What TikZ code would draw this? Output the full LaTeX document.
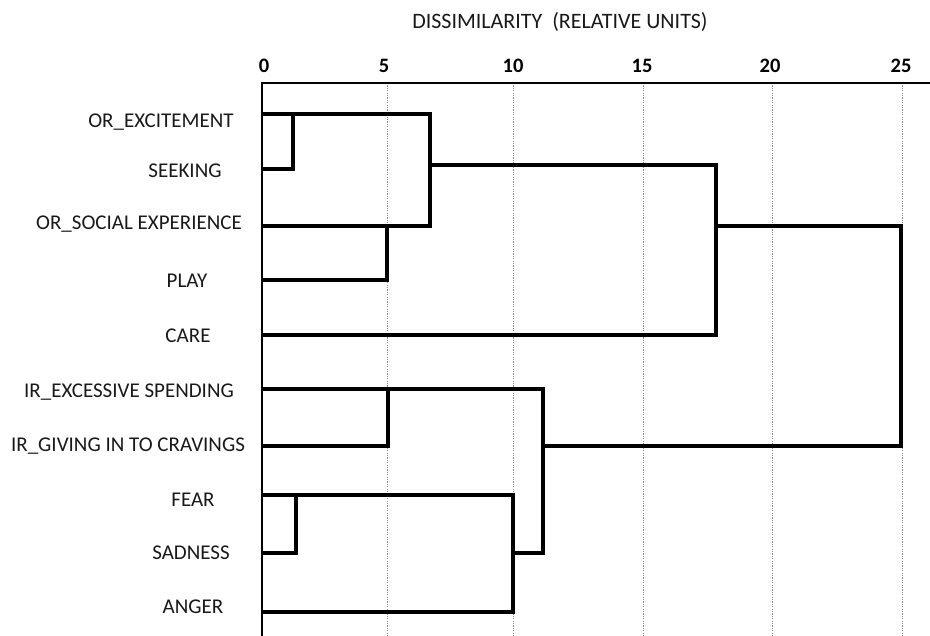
\documentclass[tikz,border=0pt]{standalone}
\usepackage{fontspec}
\setmainfont{Carlito}
\begin{document}
\begin{tikzpicture}[x=1pt,y=-1pt,
  leaf/.style={font=\fontsize{21}{21}\selectfont, inner sep=0pt, anchor=center, text=black!90},
  tickl/.style={font=\bfseries\fontsize{20.5}{20.5}\selectfont, inner sep=0pt, anchor=center},
  ttl/.style={font=\fontsize{22}{22}\selectfont, inner sep=0pt, anchor=center, text=black!90},
  link/.style={line width=3.2pt, line join=miter},
  axisline/.style={line width=2.4pt},
  gridl/.style={black!45, line width=1pt, dash pattern=on 1.2pt off 1.2pt},
]
\useasboundingbox (0,0) rectangle (930,636);
% leaves on the axis
\coordinate (E) at (262,114);
\coordinate (S) at (262,169);
\coordinate (SO) at (262,226);
\coordinate (P) at (262,280);
\coordinate (C) at (262,335);
\coordinate (IE) at (262,389);
\coordinate (IG) at (262,446);
\coordinate (F) at (262,495);
\coordinate (SA) at (262,553);
\coordinate (A) at (262,612);
% merge points
\coordinate (mES) at (293,114);
\coordinate (m1) at (430,114);
\coordinate (m2) at (387,226);
\coordinate (m1c) at (430,165);
\coordinate (m3) at (716,165);
\coordinate (m3c) at (716,226);
\coordinate (rootT) at (901,226);
\coordinate (m4) at (543,389);
\coordinate (m4c) at (543,446);
\coordinate (m5c) at (513,553);
\coordinate (m6) at (388,389);
\coordinate (m7) at (513,495);
\coordinate (m8) at (296,495);
% axis
\coordinate (axB) at (262,636);
\coordinate (axR) at (930,83);
% grid
\foreach \gx in {387,513,643,772,902}
  \draw[gridl] (\gx,83) -- (\gx,636);
\draw[axisline] (axB) |- (axR);
% title and ticks
\node[ttl] (title) at (560,22) {DISSIMILARITY\ \ (RELATIVE UNITS)};
\node[tickl] (t0) at (264,66) {0};
\node[tickl] (t5) at (384,66) {5};
\node[tickl] (t10) at (513,66) {10};
\node[tickl] (t15) at (642,66) {15};
\node[tickl] (t20) at (770,66) {20};
\node[tickl] (t25) at (901,66) {25};
% leaf labels
\node[leaf] (lE) at (161,122) {OR\_EXCITEMENT};
\node[leaf] (lS) at (185,171) {SEEKING};
\node[leaf] (lSO) at (139,224) {OR\_SOCIAL EXPERIENCE};
\node[leaf] (lP) at (187,281) {PLAY};
\node[leaf] (lC) at (188,336) {CARE};
\node[leaf] (lIE) at (129,392) {IR\_EXCESSIVE SPENDING};
\node[leaf] (lIG) at (128,446) {IR\_GIVING IN TO CRAVINGS};
\node[leaf] (lF) at (193,500) {FEAR};
\node[leaf] (lSA) at (191,553) {SADNESS};
\node[leaf] (lA) at (193,607) {ANGER};
% dendrogram
\draw[link] (S) -| (mES);
\draw[link] (E) -- (m1) |- (SO);
\draw[link] (P) -| (m2);
\draw[link] (m1c) -- (m3) |- (C);
\draw[link] (m3c) -- (rootT) |- (m4c);
\draw[link] (IE) -- (m4) |- (m5c);
\draw[link] (IG) -| (m6);
\draw[link] (F) -- (m7) |- (A);
\draw[link] (SA) -| (m8);
\end{tikzpicture}
\end{document}
